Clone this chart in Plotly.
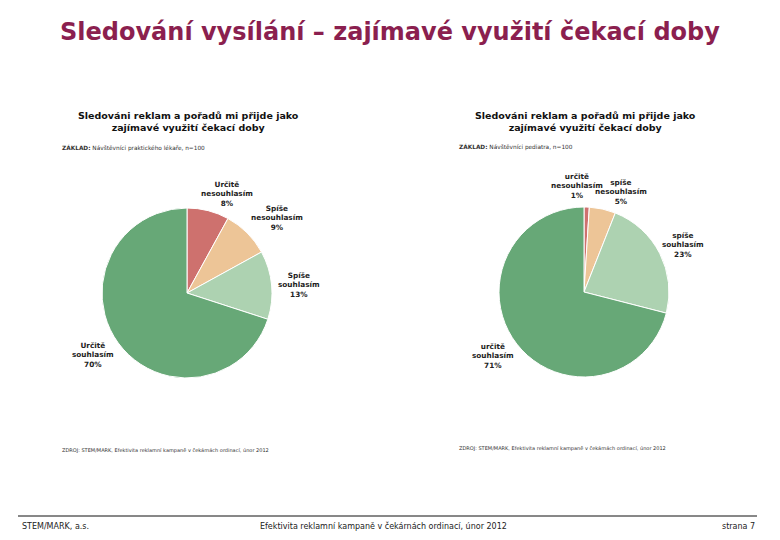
import plotly.graph_objects as go

W, H = 780, 540

categories_left = ["Určitě nesouhlasím", "Spíše nesouhlasím", "Spíše souhlasím", "Určitě souhlasím"]
values_left = [8, 9, 13, 70]
categories_right = ["určitě nesouhlasím", "spíše nesouhlasím", "spíše souhlasím", "určitě souhlasím"]
values_right = [1, 5, 23, 71]
colors = ["#CE716E", "#EDC597", "#ADD2B1", "#67A877"]

title = "Sledování vysílání – zajímavé využití čekací doby"
subtitle = "Sledováni reklam a pořadů mi přijde jako<br>zajímavé využití čekací doby"
base_left = "<b>ZÁKLAD:</b> Návštěvníci praktického lékaře, n=100"
base_right = "<b>ZÁKLAD:</b> Návštěvníci pediatra, n=100"
source = "ZDROJ: STEM/MARK, Efektivita reklamní kampaně v čekárnách ordinací, únor 2012"
footer_left = "STEM/MARK, a.s."
footer_mid = "Efektivita reklamní kampaně v čekárnách ordinací, únor 2012"
footer_right = "strana 7"


def px_x(x):
    return x / W


def px_y(y):
    return 1 - y / H


def domain(cx, cy, r):
    return dict(x=[px_x(cx - r), px_x(cx + r)], y=[px_y(cy + r), px_y(cy - r)])


fig = go.Figure()
fig.add_trace(go.Pie(labels=categories_left, values=values_left, sort=False,
                     direction="clockwise", rotation=0, textinfo="none",
                     marker=dict(colors=colors, line=dict(color="white", width=1)),
                     domain=domain(187, 293, 85), showlegend=False, hoverinfo="label+percent"))
fig.add_trace(go.Pie(labels=categories_right, values=values_right, sort=False,
                     direction="clockwise", rotation=0, textinfo="none",
                     marker=dict(colors=colors, line=dict(color="white", width=1)),
                     domain=domain(584, 292, 85), showlegend=False, hoverinfo="label+percent"))

ann = []


def text(x, y, s, size, color="#1a1a1a", anchor="center", bold=False, family="DejaVu Sans", yanchor="middle"):
    if bold:
        s = "<b>" + s + "</b>"
    ann.append(dict(x=px_x(x), y=px_y(y), xref="paper", yref="paper", text=s, showarrow=False,
                    xanchor=anchor, yanchor=yanchor, align=anchor if anchor != "center" else "center",
                    font=dict(size=size, color=color, family=family)))


text(390, 32, title, 24, color="#8B1F4F", bold=True)
text(188, 122, subtitle, 9.5, color="#111", bold=True)
text(585, 121, subtitle, 9.5, color="#111", bold=True)
text(60, 148, base_left, 5.8, color="#333", anchor="left")
text(457, 147, base_right, 5.8, color="#333", anchor="left")
text(60, 450, source, 5, color="#333", anchor="left")
text(457, 448, source, 5, color="#333", anchor="left")

# slice labels
lab_left_pos = [(227, 194), (277, 218), (299, 285), (93, 355)]
for (x, y), c, v in zip(lab_left_pos, categories_left, values_left):
    w1, w2 = c.split(" ")
    text(x, y, f"{w1}<br>{w2}<br>{v}%", 7.3, color="#222", bold=True)
lab_right_pos = [(577, 186), (621, 192), (683, 245), (493, 356)]
for (x, y), c, v in zip(lab_right_pos, categories_right, values_right):
    w1, w2 = c.split(" ")
    text(x, y, f"{w1}<br>{w2}<br>{v}%", 7.3, color="#222", bold=True)

text(20, 526, footer_left, 8, color="#222", anchor="left")
text(258, 526, footer_mid, 8, color="#222", anchor="left")
text(757, 526, footer_right, 8, color="#222", anchor="right")

fig.update_layout(
    width=W, height=H, margin=dict(l=0, r=0, t=0, b=0),
    paper_bgcolor="white", plot_bgcolor="white",
    annotations=ann,
    shapes=[dict(type="line", xref="paper", yref="paper", x0=px_x(18), x1=px_x(757),
                 y0=px_y(516), y1=px_y(516), line=dict(color="#111", width=1))],
)
fig.write_html("out.html", config={"displayModeBar": False},
               post_script="document.body.style.margin='0';")
